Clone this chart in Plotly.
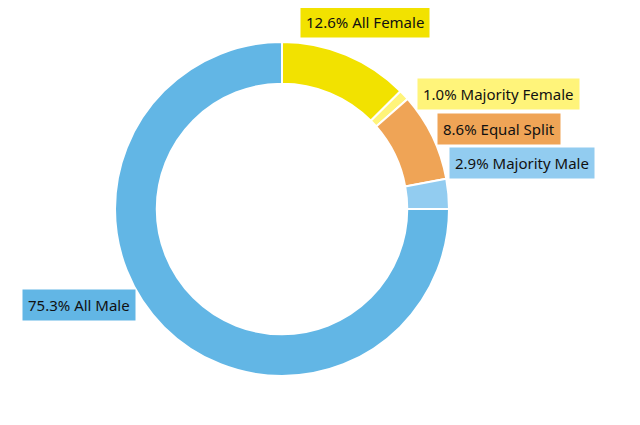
import plotly.graph_objects as go

labels = ["All Female", "Majority Female", "Equal Split", "Majority Male", "All Male"]
values = [12.6, 1.0, 8.6, 2.9, 75.3]
colors = ["#F2E200", "#FFF47A", "#EFA456", "#92CCF0", "#62B6E5"]

# label box anchor positions in pixels (left x, center y)
label_pos = [(292, 14), (409, 86), (429, 121), (441, 155), (14, 297)]

W, H = 640, 425
fig = go.Figure(go.Pie(
    labels=labels, values=values, hole=0.75, sort=False, direction="clockwise",
    rotation=0, marker=dict(colors=colors, line=dict(color="white", width=2)),
    textinfo="none", hoverinfo="label+percent",
    domain=dict(x=[107 / W, 441 / W], y=[57 / H, 391 / H]),
))
for lab, v, c, (px, py) in zip(labels, values, colors, label_pos):
    fig.add_annotation(
        x=px / W, y=1 - py / H, xref="paper", yref="paper", xanchor="left", yanchor="middle",
        text=f"{v:.1f}% {lab}", showarrow=False, bgcolor=c, borderpad=5,
        font=dict(family="Noto Sans", size=15, color="#111"),
    )
fig.update_layout(width=W, height=H, margin=dict(l=0, r=0, t=0, b=0),
                  showlegend=False, paper_bgcolor="white")
fig.write_html("out.html")
